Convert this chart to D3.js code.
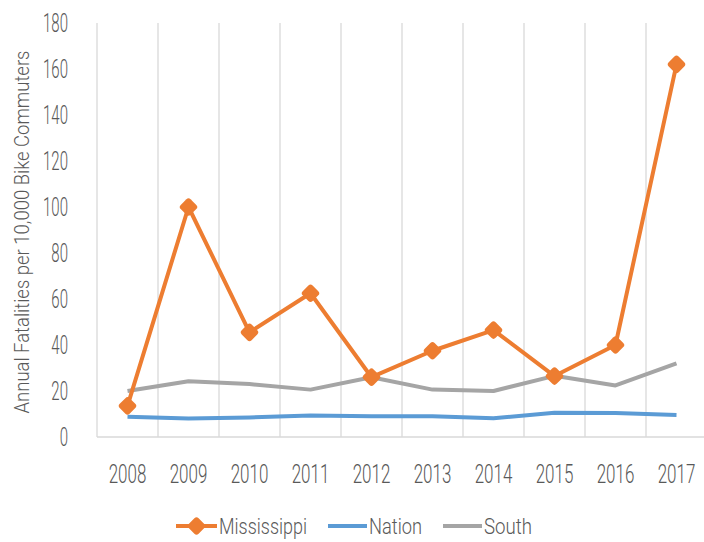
<!DOCTYPE html>
<html><head><meta charset="utf-8">
<script src="https://cdn.jsdelivr.net/npm/d3@7"></script>
<style>
html,body{margin:0;padding:0;background:#fff;}
svg{display:block;}
text{font-family:"Roboto","Liberation Sans",sans-serif;font-weight:300;fill:#595959;}
</style></head>
<body>
<script>
const years = ["2008","2009","2010","2011","2012","2013","2014","2015","2016","2017"];
const mississippi = [13.5, 100, 45.5, 62.5, 26, 37.5, 46.5, 26.5, 40, 162];
const nation = [8.8, 8.0, 8.5, 9.4, 9.0, 9.0, 8.2, 10.5, 10.4, 9.6];
const south = [20, 24.2, 23, 20.6, 26, 20.6, 20, 26.6, 22.4, 32];
const yTicks = [0, 20, 40, 60, 80, 100, 120, 140, 160, 180];
const seriesNames = ["Mississippi", "Nation", "South"];
const colors = {Mississippi: "#ED7D31", Nation: "#5B9BD5", South: "#A5A5A5"};

const W = 704, H = 542;
const svg = d3.select("body").append("svg").attr("width", W).attr("height", H);

const x = d3.scaleBand().domain(years).range([97, 707]);
const y = d3.scaleLinear().domain([0, 180]).range([437, 23]);

function label(g, txt, tx, ty, size, anchor, rot, len, sx) {
  const t = g.append("text")
    .attr("transform", `translate(${tx},${ty}) rotate(${rot||0})` + (len ? "" : ` scale(${sx||0.6},1)`))
    .attr("text-anchor", anchor)
    .attr("font-size", size)
    .text(txt);
  if (len) t.attr("textLength", len).attr("lengthAdjust", "spacingAndGlyphs");
  return t;
}

// vertical gridlines at band boundaries
const grid = svg.append("g");
const bounds = years.map(d => x(d)).concat([x(years[years.length-1]) + x.bandwidth()]);
grid.selectAll("line").data(bounds).join("line")
  .attr("x1", d => d).attr("x2", d => d)
  .attr("y1", y(180)).attr("y2", y(0))
  .attr("stroke", "#D9D9D9").attr("stroke-width", 1.3);
svg.append("line").attr("x1", x.range()[0]).attr("x2", x.range()[1])
  .attr("y1", y(0)).attr("y2", y(0)).attr("stroke", "#D9D9D9").attr("stroke-width", 1.5);

// y tick labels
const yl = svg.append("g");
yTicks.forEach(t => label(yl, String(t), 68, y(t) + 9, 25, "end", 0, null, 0.6));

// x tick labels
const xl = svg.append("g");
years.forEach(yr => label(xl, yr, x(yr) + x.bandwidth()/2, 483, 25, "middle", 0, null, 0.68));

// y axis title
label(svg, "Annual Fatalities per 10,000 Bike Commuters", 29, 232, 21, "middle", -90, 363);

const cx = d => x(d) + x.bandwidth()/2;
const line = d3.line().x(d => cx(d.year)).y(d => y(d.v));
function toPts(arr){ return years.map((yr,i)=>({year:yr, v:arr[i]})); }

svg.append("path").datum(toPts(nation)).attr("d", line)
  .attr("fill","none").attr("stroke", colors.Nation).attr("stroke-width", 4).attr("stroke-linejoin","round");
svg.append("path").datum(toPts(south)).attr("d", line)
  .attr("fill","none").attr("stroke", colors.South).attr("stroke-width", 4).attr("stroke-linejoin","round");
svg.append("path").datum(toPts(mississippi)).attr("d", line)
  .attr("fill","none").attr("stroke", colors.Mississippi).attr("stroke-width", 4).attr("stroke-linejoin","round");

function diamond(g, px, py) {
  g.append("rect").attr("x", -7).attr("y", -7).attr("width", 14).attr("height", 14)
    .attr("rx", 3).attr("ry", 3)
    .attr("transform", `translate(${px},${py}) rotate(45)`)
    .attr("fill", colors.Mississippi);
}
const mk = svg.append("g");
toPts(mississippi).forEach(p => diamond(mk, cx(p.year), y(p.v)));

// legend
const lg = svg.append("g");
const legendItems = [
  {name: "Mississippi", x0: 176, x1: 217, tx: 219, len: 88},
  {name: "Nation", x0: 328, x1: 367, tx: 369, len: 53},
  {name: "South", x0: 443, x1: 482, tx: 484, len: 48}
];
const ly = 526;
legendItems.forEach(it => {
  lg.append("line").attr("x1", it.x0).attr("x2", it.x1).attr("y1", ly).attr("y2", ly)
    .attr("stroke", colors[it.name]).attr("stroke-width", 4);
  if (it.name === "Mississippi") diamond(lg, (it.x0 + it.x1)/2, ly);
  label(lg, it.name, it.tx, ly + 8, 22, "start", 0, it.len);
});
</script>
</body></html>
